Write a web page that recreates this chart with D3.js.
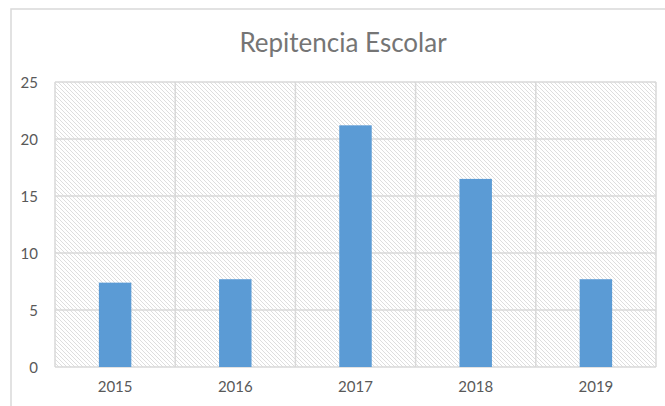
<!DOCTYPE html>
<html>
<head>
  <meta charset="utf-8">
  <title>Repitencia Escolar</title>
  <script src="https://d3js.org/d3.v7.min.js"></script>
  <style>
    body { margin: 0; background: #fff; }
    svg text { font-family: Lato, "Open Sans", sans-serif; }
    .tick text { fill: #595959; font-size: 15px; }
  </style>
</head>
<body>
<div id="chart"></div>
<script>
let years = ["2015", "2016", "2017", "2018", "2019"];
let values = [7.4, 7.7, 21.2, 16.5, 7.7];
let yTicks = [0, 5, 10, 15, 20, 25];

let width = 665,
    height = 406;

let margin = {top: 82, right: 9, bottom: 39, left: 55};

let svg = d3.select("#chart").append("svg")
    .attr("width", width)
    .attr("height", height);

// hatch pattern for the plot background
let defs = svg.append("defs");
defs.append("pattern")
    .attr("id", "hatch")
    .attr("patternUnits", "userSpaceOnUse")
    .attr("width", 4)
    .attr("height", 4)
  .append("path")
    .attr("d", "M-1,-1 L5,5 M-1,3 L1,5 M3,-1 L5,1")
    .attr("stroke", "#dedede")
    .attr("stroke-width", 1);

// outer chart frame (cut off at right/bottom)
svg.append("rect")
    .attr("x", 11).attr("y", 9)
    .attr("width", 800).attr("height", 600)
    .attr("fill", "none")
    .attr("stroke", "#d9d9d9")
    .attr("stroke-width", 1.5);

svg.append("text")
    .attr("x", 343)
    .attr("y", 52)
    .attr("text-anchor", "middle")
    .attr("fill", "#757575")
    .style("font-size", "26px")
    .text("Repitencia Escolar");

let x = d3.scaleBand()
    .domain(years)
    .range([margin.left, width - margin.right])
    .paddingInner(0.73)
    .paddingOuter(0.365);

let xGrid = d3.scaleBand()
    .domain(years)
    .range([margin.left, width - margin.right]);

let y = d3.scaleLinear()
    .domain([0, 25])
    .range([height - margin.bottom, margin.top]);

svg.append("rect")
    .attr("x", margin.left)
    .attr("y", margin.top)
    .attr("width", width - margin.right - margin.left)
    .attr("height", y(0) - margin.top)
    .attr("fill", "url(#hatch)");

// horizontal gridlines
svg.append("g")
  .selectAll("line")
  .data(yTicks)
  .join("line")
    .attr("x1", margin.left)
    .attr("x2", width - margin.right)
    .attr("y1", d => y(d))
    .attr("y2", d => y(d))
    .attr("stroke", "#d9d9d9")
    .attr("stroke-width", 1.5);

// vertical gridlines between categories
let vLines = years.map(d => xGrid(d)).concat([width - margin.right]);
svg.append("g")
  .selectAll("line")
  .data(vLines)
  .join("line")
    .attr("x1", d => d).attr("x2", d => d)
    .attr("y1", margin.top)
    .attr("y2", y(0))
    .attr("stroke", "#d9d9d9")
    .attr("stroke-width", 1.5);

svg.append("g")
  .selectAll("rect")
  .data(values)
  .join("rect")
    .attr("x", (d, i) => x(years[i]))
    .attr("y", d => y(d))
    .attr("width", x.bandwidth())
    .attr("height", d => y(0) - y(d))
    .attr("fill", "#5b9bd5");

let yAxis = svg.append("g")
    .attr("transform", "translate(" + (margin.left - 14) + ",0)")
    .call(d3.axisLeft(y).tickValues(yTicks).tickSize(0));
yAxis.select(".domain").remove();
yAxis.selectAll("text").attr("dy", "0.35em");

let xAxis = svg.append("g")
    .attr("transform", "translate(0," + (y(0) + 11) + ")")
    .call(d3.axisBottom(xGrid).tickSize(0));
xAxis.select(".domain").remove();
</script>
</body>
</html>
